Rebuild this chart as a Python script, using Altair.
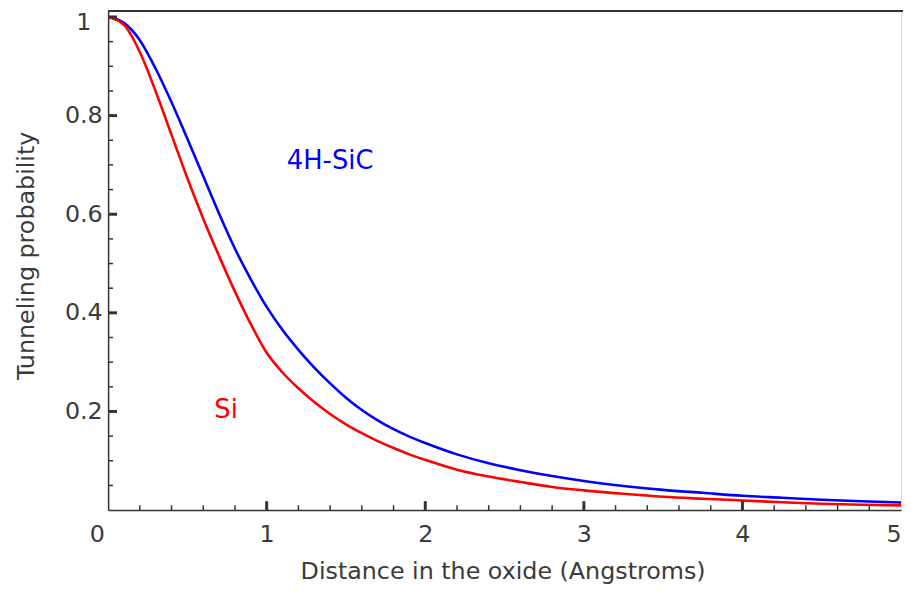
import altair as alt
import pandas as pd

distance = [0, 0.1, 0.2, 0.3, 0.4, 0.5, 0.6, 0.7, 0.8, 0.9, 1.0, 1.1, 1.2, 1.3, 1.4,
            1.5, 1.6, 1.7, 1.8, 1.9, 2.0, 2.2, 2.4, 2.6, 2.8, 3.0, 3.25, 3.5, 3.75,
            4.0, 4.25, 4.5, 4.75, 5.0]
sic_prob = [1.0, 0.988, 0.953, 0.895, 0.827, 0.753, 0.677, 0.601, 0.530, 0.468, 0.412,
            0.365, 0.325, 0.289, 0.257, 0.228, 0.203, 0.182, 0.164, 0.149, 0.136,
            0.113, 0.095, 0.081, 0.069, 0.059, 0.049, 0.041, 0.035, 0.029, 0.025,
            0.021, 0.018, 0.0155]
si_prob = [1.0, 0.984, 0.929, 0.849, 0.761, 0.673, 0.591, 0.515, 0.443, 0.377, 0.319,
           0.279, 0.247, 0.219, 0.195, 0.174, 0.156, 0.140, 0.126, 0.113, 0.102,
           0.082, 0.068, 0.057, 0.047, 0.040, 0.033, 0.027, 0.023, 0.0195, 0.016,
           0.013, 0.011, 0.0095]
series_names = ["4H-SiC", "Si"]
series_colors = ["#0000ff", "#ff0000"]

x_label_values = [0, 1, 2, 3, 4, 5]
x_minor_ticks = [0.2, 0.4, 0.6, 0.8, 1.2, 1.4, 1.6, 1.8, 2.2, 2.4, 2.6, 2.8,
                 3.2, 3.4, 3.6, 3.8, 4.2, 4.4, 4.6, 4.8]
x_major_ticks = [1, 2, 3, 4]
y_label_values = [0.2, 0.4, 0.6, 0.8, 1.0]
y_minor_ticks = [0.05, 0.1, 0.15, 0.25, 0.3, 0.35, 0.45, 0.5, 0.55, 0.65, 0.7,
                 0.75, 0.85, 0.9, 0.95]

label_text = ["4H-SiC", "Si"]
label_x = [1.4, 0.744]
label_y = [0.707, 0.202]

FONT = "DejaVu Sans"
AXIS_COLOR = "#333333"
TEXT_COLOR = "#3a3a3a"

rows = []
for d, a, b in zip(distance, sic_prob, si_prob):
    rows.append({"d": d, "p": a, "series": "4H-SiC"})
    rows.append({"d": d, "p": b, "series": "Si"})
df = pd.DataFrame(rows)

xscale = alt.Scale(domain=[0, 5], nice=False, zero=False)
yscale = alt.Scale(domain=[0, 1.013], nice=False, zero=False)
cscale = alt.Scale(domain=series_names, range=series_colors)

lines = alt.Chart(df).mark_line(strokeWidth=2.6, interpolate="monotone", clip=True).encode(
    x=alt.X("d:Q", scale=xscale,
            axis=alt.Axis(values=x_label_values, ticks=False, grid=False, format="d",
                          labelFont=FONT, labelFontSize=24, labelColor=TEXT_COLOR,
                          labelPadding=25, labelBaseline="middle",
                          labelOffset={"condition": {"test": "datum.value === 0", "value": -19},
                                       "value": 0},
                          domainColor=AXIS_COLOR, domainWidth=1.5,
                          title="Distance in the oxide (Angstroms)",
                          titleFont=FONT, titleFontSize=24, titleFontWeight="normal",
                          titleColor=TEXT_COLOR, titleBaseline="middle",
                          titleX=398, titleY=62)),
    y=alt.Y("p:Q", scale=yscale,
            axis=alt.Axis(values=y_label_values, ticks=False, grid=False,
                          labelExpr="datum.value == 1 ? '1' : format(datum.value, '.1f')",
                          labelFont=FONT, labelFontSize=24, labelColor=TEXT_COLOR,
                          labelPadding=25, labelAlign="center", labelBaseline="middle",
                          labelOffset={"condition": {"test": "datum.value === 1", "value": 6},
                                       "value": 0},
                          domainColor=AXIS_COLOR, domainWidth=1.5,
                          title="Tunneling probability",
                          titleFont=FONT, titleFontSize=24, titleFontWeight="normal",
                          titleColor=TEXT_COLOR, titleBaseline="middle", titleAlign="center",
                          titleX=-82, titleY=247)),
    color=alt.Color("series:N", scale=cscale, legend=None),
    detail="series:N",
)

xminor = alt.Chart(pd.DataFrame({"t": x_minor_ticks})).mark_rule(
    color=AXIS_COLOR, strokeWidth=1.5).encode(
    x=alt.X("t:Q", scale=xscale), y=alt.value(504), y2=alt.value(499))
xmajor = alt.Chart(pd.DataFrame({"t": x_major_ticks})).mark_rule(
    color=AXIS_COLOR, strokeWidth=3).encode(
    x=alt.X("t:Q", scale=xscale), y=alt.value(504), y2=alt.value(495))
yminor = alt.Chart(pd.DataFrame({"t": y_minor_ticks})).mark_rule(
    color=AXIS_COLOR, strokeWidth=1.5).encode(
    y=alt.Y("t:Q", scale=yscale), x=alt.value(0), x2=alt.value(5))
ymajor = alt.Chart(pd.DataFrame({"t": y_label_values})).mark_rule(
    color=AXIS_COLOR, strokeWidth=3).encode(
    y=alt.Y("t:Q", scale=yscale), x=alt.value(0), x2=alt.value(9))
top = alt.Chart(pd.DataFrame({"a": [0]})).mark_rule(
    color=AXIS_COLOR, strokeWidth=2).encode(
    y=alt.value(0.5), x=alt.value(0), x2=alt.value(802))

labels = alt.Chart(pd.DataFrame({"text": label_text, "x": label_x, "y": label_y,
                                 "series": series_names})).mark_text(
    font=FONT, fontSize=26, align="center", baseline="middle").encode(
    x=alt.X("x:Q", scale=xscale), y=alt.Y("y:Q", scale=yscale), text="text:N",
    color=alt.Color("series:N", scale=cscale, legend=None))

chart = alt.layer(lines, xminor, xmajor, yminor, ymajor, top, labels).properties(
    width=800, height=504,
    autosize=alt.AutoSizeParams(type="none"),
    padding={"left": 101, "top": 0, "right": 2, "bottom": 74},
).configure_view(stroke=None).configure(background="white")

chart.save("out.html", embed_options={"renderer": "svg", "actions": False})
